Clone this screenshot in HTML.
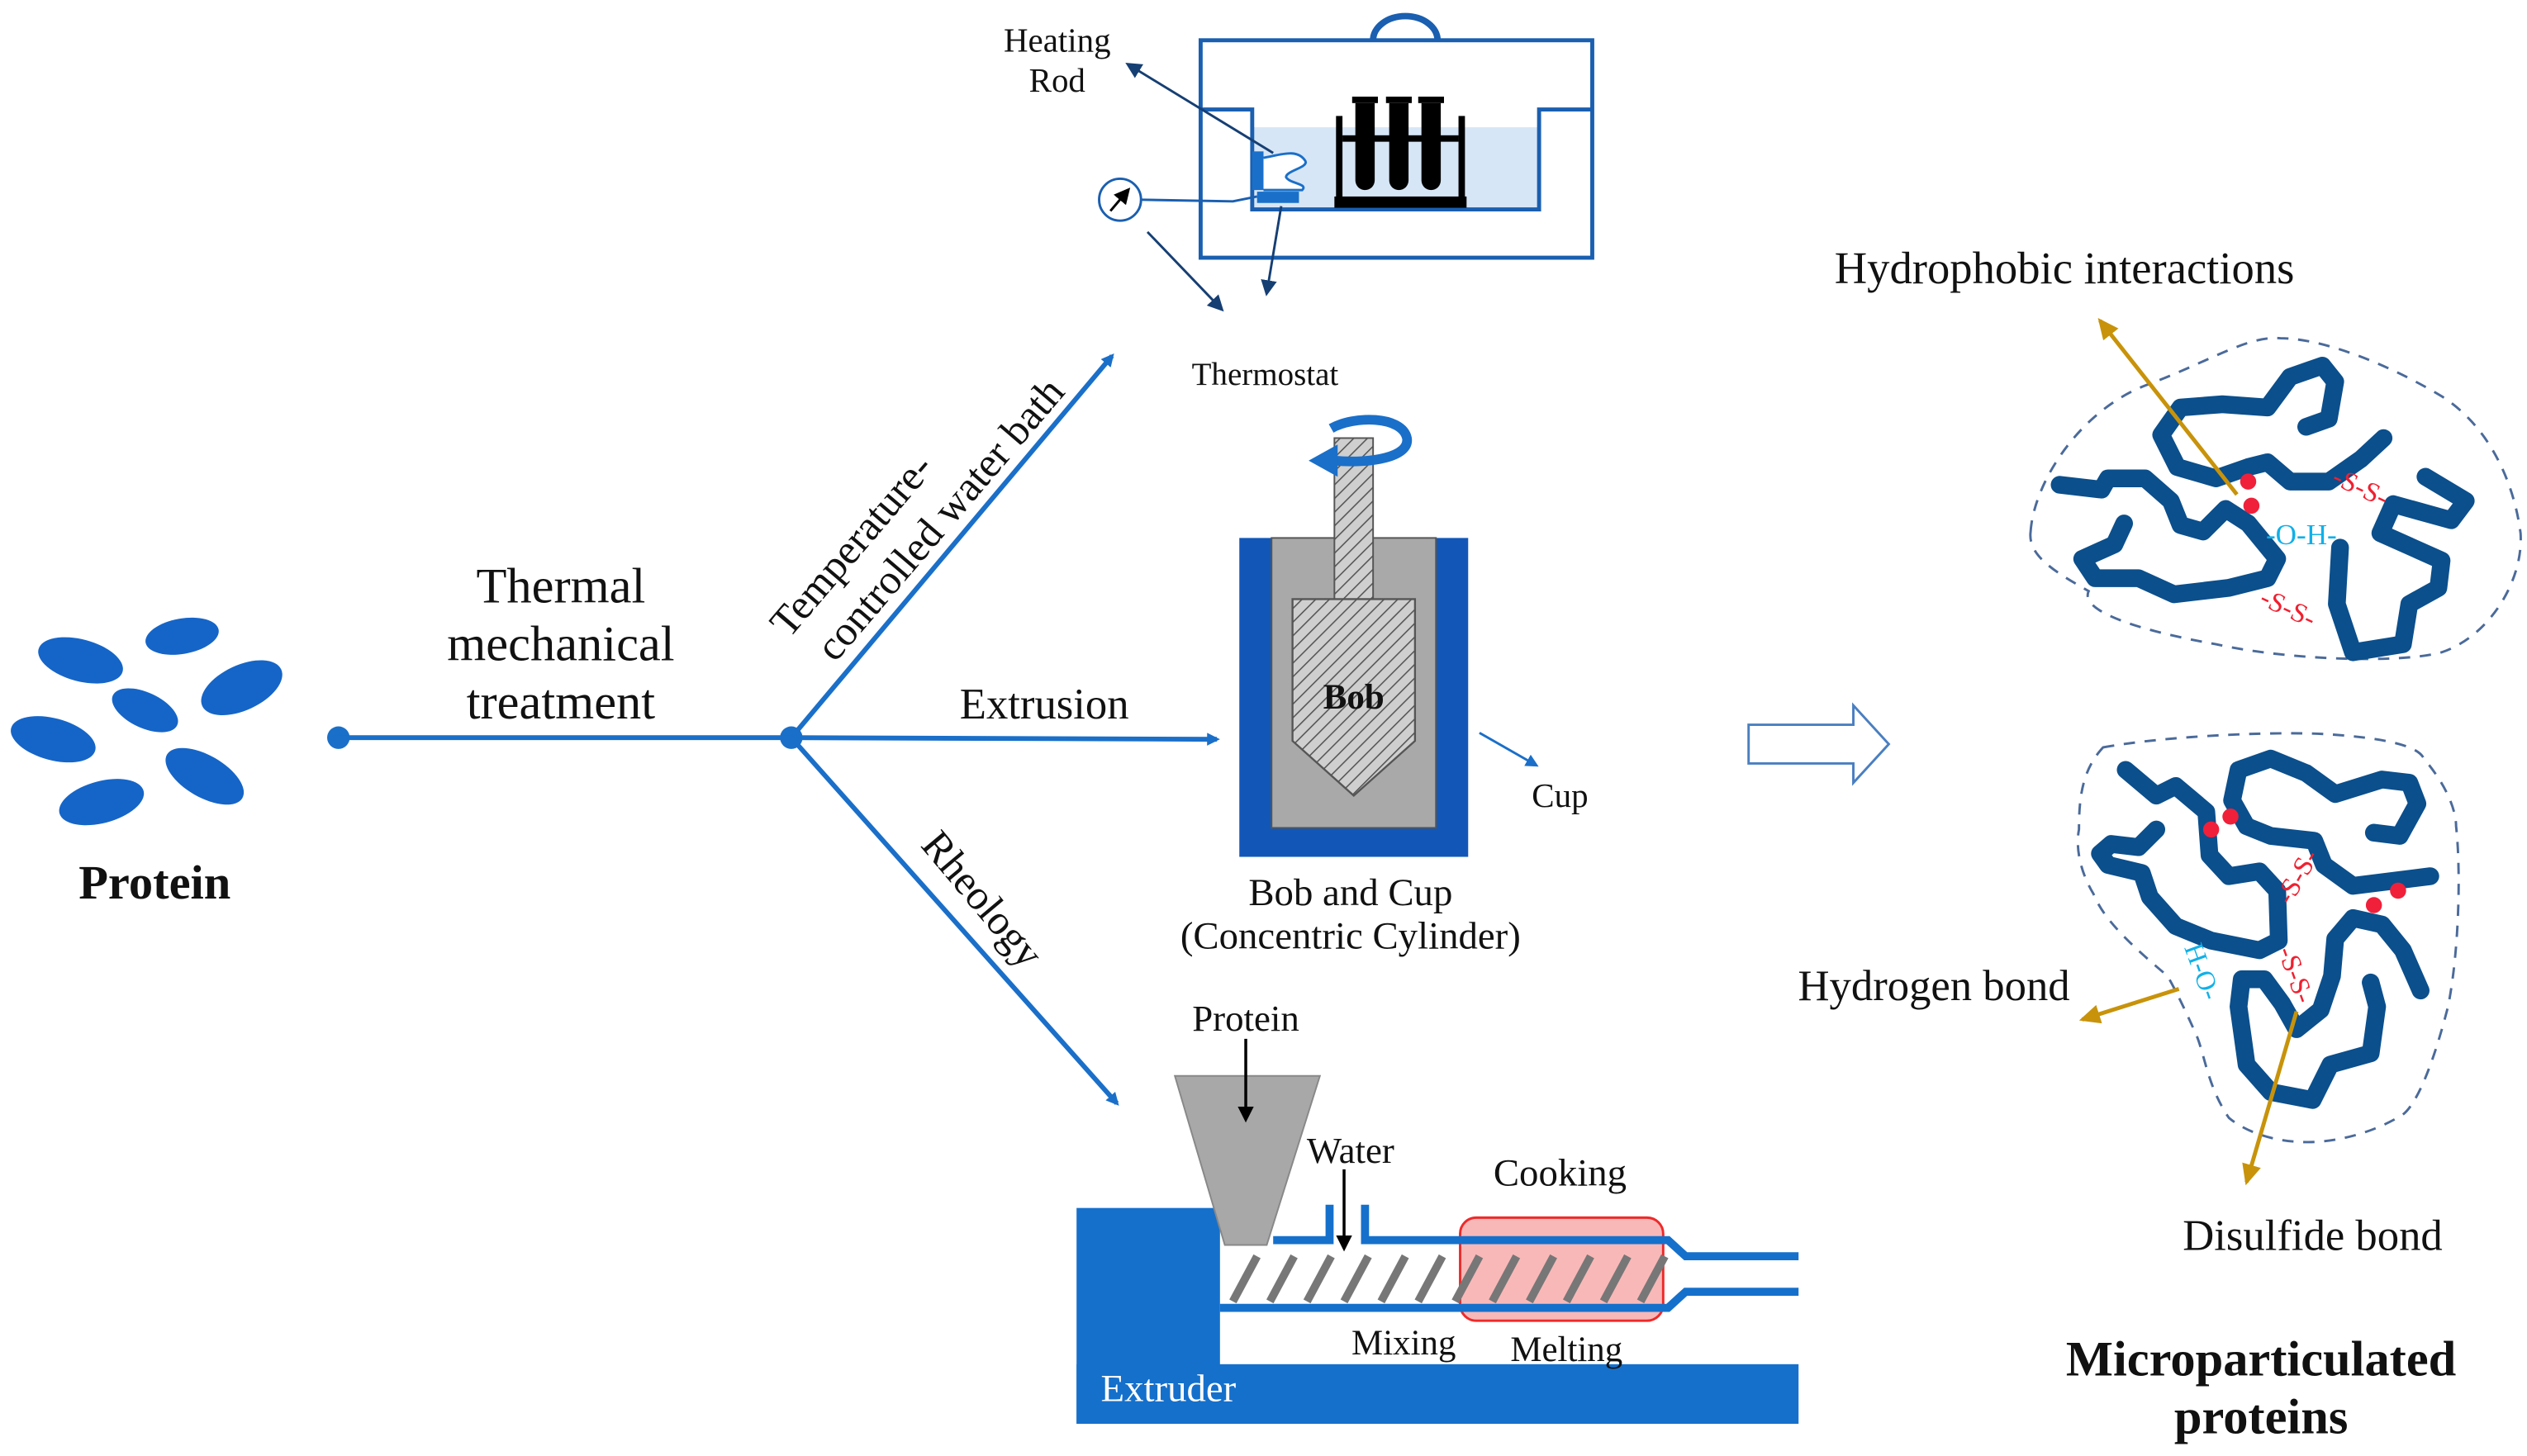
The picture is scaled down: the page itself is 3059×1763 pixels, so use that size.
<!DOCTYPE html>
<html><head><meta charset="utf-8"><style>
html,body{margin:0;padding:0;background:#fff}
svg{display:block}
text{font-family:"Liberation Serif",serif;fill:#111}
</style></head><body>
<svg width="3059" height="1763" viewBox="0 0 1568 904" preserveAspectRatio="none" xmlns="http://www.w3.org/2000/svg">
<defs>
<marker id="ab" markerWidth="8" markerHeight="8" refX="6" refY="4" orient="auto" markerUnits="userSpaceOnUse"><path d="M0,0 L8,4 L0,8 z" fill="#1a6fc9"/></marker>
<marker id="an" markerWidth="10" markerHeight="10" refX="8" refY="5" orient="auto" markerUnits="userSpaceOnUse"><path d="M0,0 L10,5 L0,10 z" fill="#163f73"/></marker>
<marker id="ak" markerWidth="10" markerHeight="10" refX="8" refY="5" orient="auto" markerUnits="userSpaceOnUse"><path d="M0,0 L10,5 L0,10 z" fill="#000"/></marker>
<marker id="ag" markerWidth="14" markerHeight="14" refX="11" refY="7" orient="auto" markerUnits="userSpaceOnUse"><path d="M0,1 L13,7 L0,13 z" fill="#c8930a"/></marker>
<pattern id="hatch" width="6" height="6" patternUnits="userSpaceOnUse" patternTransform="rotate(45)"><rect width="6" height="6" fill="#cfcfcf"/><line x1="0" y1="0" x2="0" y2="6" stroke="#555" stroke-width="1.6"/></pattern>
</defs>

<!-- protein blobs -->
<g fill="#1565c8">
<ellipse cx="50" cy="410" rx="27" ry="13" transform="rotate(15 50 410)"/>
<ellipse cx="113" cy="395" rx="23" ry="11" transform="rotate(-10 113 395)"/>
<ellipse cx="150" cy="427" rx="27" ry="14" transform="rotate(-25 150 427)"/>
<ellipse cx="90" cy="441" rx="22" ry="11" transform="rotate(25 90 441)"/>
<ellipse cx="33" cy="459" rx="27" ry="13" transform="rotate(15 33 459)"/>
<ellipse cx="127" cy="482" rx="27" ry="13" transform="rotate(30 127 482)"/>
<ellipse cx="63" cy="498" rx="27" ry="13" transform="rotate(-15 63 498)"/>
</g>
<text x="96" y="558" font-size="30" font-weight="bold" text-anchor="middle">Protein</text>

<!-- main connectors -->
<circle cx="210" cy="458" r="7" fill="#1a6fc9"/>
<circle cx="491" cy="458" r="7" fill="#1a6fc9"/>
<g stroke="#1a6fc9" stroke-width="3" fill="none">
<line x1="210" y1="458" x2="491" y2="458"/>
<line x1="491" y1="458" x2="690" y2="221" marker-end="url(#ab)"/>
<line x1="491" y1="458" x2="755" y2="459" marker-end="url(#ab)"/>
<line x1="491" y1="458" x2="693" y2="685" marker-end="url(#ab)"/>
</g>
<g font-size="31" text-anchor="middle">
<text x="348" y="374">Thermal</text>
<text x="348" y="410">mechanical</text>
<text x="348" y="446">treatment</text>
</g>
<text x="528" y="347" font-size="26" text-anchor="middle" transform="rotate(-49.5 528 338)">Temperature-</text>
<text x="583" y="331" font-size="26" text-anchor="middle" transform="rotate(-49.5 583 322)">controlled water bath</text>
<text x="648" y="446" font-size="27" text-anchor="middle">Extrusion</text>
<text x="610" y="567" font-size="26" text-anchor="middle" transform="rotate(50 610 558)">Rheology</text>

<!-- water bath -->
<path d="M852,25 A16,12 0 0 1 892,25" fill="none" stroke="#1a5fb0" stroke-width="4"/>
<rect x="745" y="25" width="243" height="135" fill="none" stroke="#1a5fb0" stroke-width="2.5"/>
<rect x="777" y="79" width="178" height="51" fill="#d7e6f6"/>
<path d="M745,68 L777,68 L777,130 L955,130 L955,68 L988,68" fill="none" stroke="#1a5fb0" stroke-width="2.5"/>
<g fill="#000">
<rect x="828" y="122" width="82" height="7"/>
<rect x="829" y="72" width="4" height="52"/><rect x="905" y="72" width="4" height="52"/>
<rect x="833" y="84" width="72" height="4"/>
<rect x="839" y="60" width="16" height="4"/><rect x="860" y="60" width="16" height="4"/><rect x="880" y="60" width="16" height="4"/>
<path d="M841,64 h12 v48 a6,6 0 0 1 -12,0 z"/><path d="M862,64 h12 v48 a6,6 0 0 1 -12,0 z"/><path d="M882,64 h12 v48 a6,6 0 0 1 -12,0 z"/>
</g>
<rect x="777" y="94" width="7" height="24" fill="#1a6fc9"/>
<path d="M784,98 C795,96 805,92 810,100 C812,104 798,106 798,110 C800,114 812,114 808,118 L784,118" fill="#fff" stroke="#1a6fc9" stroke-width="1.5"/>
<rect x="780" y="119" width="26" height="7" fill="#1a6fc9"/>
<circle cx="695" cy="124" r="13" fill="#fff" stroke="#1a5fb0" stroke-width="1.5"/>
<line x1="689" y1="131" x2="700" y2="118" stroke="#000" stroke-width="1.5" marker-end="url(#ak)"/>
<path d="M708,124 L765,125 L780,122" fill="none" stroke="#1a5fb0" stroke-width="1.5"/>
<g stroke="#163f73" stroke-width="1.5" fill="none">
<line x1="790" y1="95" x2="700" y2="40" marker-end="url(#an)"/>
<line x1="712" y1="144" x2="758" y2="192" marker-end="url(#an)"/>
<line x1="795" y1="128" x2="786" y2="182" marker-end="url(#an)"/>
</g>
<text x="656" y="32" font-size="21" text-anchor="middle">Heating</text>
<text x="656" y="57" font-size="21" text-anchor="middle">Rod</text>
<text x="785" y="239" font-size="20" text-anchor="middle">Thermostat</text>

<!-- bob and cup -->
<rect x="769" y="334" width="142" height="198" fill="#1257b8"/>
<rect x="789" y="334" width="102" height="180" fill="#a9a9a9" stroke="#555" stroke-width="1"/>
<rect x="828" y="272" width="24" height="100" fill="url(#hatch)" stroke="#555" stroke-width="1"/>
<path d="M802,372 L878,372 L878,460 L840,494 L802,460 Z" fill="url(#hatch)" stroke="#555" stroke-width="1.2"/>
<text x="840" y="440" font-size="22" font-weight="bold" text-anchor="middle">Bob</text>
<path d="M826,266 C840,258 870,258 873,272 C875,284 850,288 828,286" fill="none" stroke="#1a6fc9" stroke-width="6"/>
<path d="M812,286 L830,276 L830,296 Z" fill="#1a6fc9"/>
<line x1="918" y1="455" x2="953" y2="475" stroke="#1a6fc9" stroke-width="1.5" marker-end="url(#ab)"/>
<text x="968" y="501" font-size="21" text-anchor="middle">Cup</text>
<text x="838" y="562" font-size="24" text-anchor="middle">Bob and Cup</text>
<text x="838" y="589" font-size="24" text-anchor="middle">(Concentric Cylinder)</text>

<!-- extruder -->
<rect x="668" y="847" width="448" height="37" fill="#1570cc"/>
<rect x="668" y="750" width="89" height="134" fill="#1570cc"/>
<rect x="906" y="756" width="126" height="64" rx="10" fill="#f9b8b8" stroke="#ee2a2a" stroke-width="1.5"/>
<path d="M729,668 L819,668 L786,773 L760,773 Z" fill="#a8a8a8" stroke="#888" stroke-width="1"/>
<g stroke="#777" stroke-width="5">
<line x1="765" y1="808" x2="780" y2="780"/><line x1="788" y1="808" x2="803" y2="780"/><line x1="811" y1="808" x2="826" y2="780"/>
<line x1="834" y1="808" x2="849" y2="780"/><line x1="857" y1="808" x2="872" y2="780"/><line x1="880" y1="808" x2="895" y2="780"/>
<line x1="903" y1="808" x2="918" y2="780"/><line x1="926" y1="808" x2="941" y2="780"/><line x1="949" y1="808" x2="964" y2="780"/>
<line x1="972" y1="808" x2="987" y2="780"/><line x1="995" y1="808" x2="1010" y2="780"/><line x1="1018" y1="808" x2="1033" y2="780"/>
</g>
<g stroke="#1570cc" stroke-width="5" fill="none">
<path d="M790,770 L825,770 L825,748"/>
<path d="M847,748 L847,770 L1035,770 L1046,780 L1116,780"/>
<path d="M757,812 L1035,812 L1046,802 L1116,802"/>
</g>
<line x1="773" y1="645" x2="773" y2="695" stroke="#000" stroke-width="1.8" marker-end="url(#ak)"/>
<line x1="834" y1="726" x2="834" y2="775" stroke="#000" stroke-width="1.8" marker-end="url(#ak)"/>
<text x="773" y="640" font-size="23" text-anchor="middle">Protein</text>
<text x="838" y="722" font-size="23" text-anchor="middle">Water</text>
<text x="968" y="736" font-size="24" text-anchor="middle">Cooking</text>
<text x="871" y="841" font-size="22" text-anchor="middle">Mixing</text>
<text x="972" y="845" font-size="22" text-anchor="middle">Melting</text>
<text x="725" y="870" font-size="24" text-anchor="middle" style="fill:#fff">Extruder</text>

<!-- open arrow -->
<path d="M1085,450 L1150,450 L1150,438 L1172,462 L1150,486 L1150,474 L1085,474 Z" fill="#fff" stroke="#4a7fc0" stroke-width="1.5"/>

<!-- top cluster -->
<path d="M1260,330 C1262,300 1290,255 1332,239 C1370,225 1395,208 1415,210 C1440,210 1480,225 1515,246 C1545,265 1560,300 1564,331 C1566,360 1545,395 1515,405 C1490,412 1420,410 1375,400 C1330,392 1290,380 1296,367 C1275,355 1258,345 1260,330 Z" fill="none" stroke="#4a6a9a" stroke-width="1.5" stroke-dasharray="7,6"/>
<g fill="none" stroke="#0b4f8c" stroke-width="11" stroke-linecap="round" stroke-linejoin="round">
<polyline points="1431,265 1445,260 1449,237 1441,227 1421,234 1407,253 1379,251 1353,253 1341,270 1351,290 1375,297 1395,290 1407,287 1421,299 1445,299 1465,285 1479,272"/>
<polyline points="1278,301 1304,304 1308,297 1331,297 1347,311 1353,326 1367,330 1381,316 1395,325 1413,347 1407,359 1383,365 1349,369 1327,359 1300,359 1292,347 1312,338 1318,325"/>
<polyline points="1505,296 1530,311 1521,323 1485,313 1477,331 1515,348 1513,365 1495,375 1491,400 1460,405 1450,375 1452,340"/>
</g>
<circle cx="1395" cy="299" r="5" fill="#f0203a"/><circle cx="1397" cy="314" r="5" fill="#f0203a"/>
<text x="1465" y="308" font-size="17" text-anchor="middle" style="fill:#f02030" transform="rotate(25 1465 302)">-S-S-</text>
<text x="1420" y="383" font-size="17" text-anchor="middle" style="fill:#f02030" transform="rotate(25 1420 377)">-S-S-</text>
<text x="1428" y="338" font-size="18" text-anchor="middle" style="fill:#10b0e8">-O-H-</text>
<line x1="1388" y1="307" x2="1303" y2="199" stroke="#c8930a" stroke-width="2.5" marker-end="url(#ag)"/>
<text x="1281" y="176" font-size="28" text-anchor="middle">Hydrophobic interactions</text>

<!-- bottom cluster -->
<path d="M1305,464 C1350,456 1420,454 1446,456 C1475,458 1500,462 1504,471 C1520,490 1524,505 1524,513 C1527,540 1526,590 1519,625 C1510,660 1500,685 1491,692 C1470,705 1445,710 1427,709 C1405,708 1390,700 1383,694 C1370,675 1368,655 1363,643 C1355,625 1350,615 1345,606 C1320,585 1305,570 1299,555 C1290,540 1288,525 1290,515 C1290,495 1292,478 1305,464 Z" fill="none" stroke="#4a6a9a" stroke-width="1.5" stroke-dasharray="7,6"/>
<g fill="none" stroke="#0b4f8c" stroke-width="11" stroke-linecap="round" stroke-linejoin="round">
<polyline points="1319,478 1338,494 1350,488 1369,504 1371,531 1383,544 1402,541 1413,553 1414,584 1402,590 1372,584 1350,575 1334,557 1329,542 1308,537 1303,530 1310,524 1327,526 1338,515"/>
<polyline points="1473,517 1489,519 1500,499 1495,486 1478,484 1449,493 1431,480 1409,471 1389,478 1385,497 1394,513 1409,519 1436,522 1442,537 1460,550 1508,544"/>
<polyline points="1502,615 1491,590 1478,574 1460,570 1449,583 1447,606 1440,627 1425,639 1416,623 1405,608 1391,608 1389,625 1394,661 1409,678 1435,683 1446,661 1471,654 1475,625 1471,610"/>
</g>
<circle cx="1372" cy="515" r="5" fill="#f0203a"/><circle cx="1384" cy="507" r="5" fill="#f0203a"/>
<circle cx="1473" cy="562" r="5" fill="#f0203a"/><circle cx="1488" cy="553" r="5" fill="#f0203a"/>
<text x="1425" y="550" font-size="17" text-anchor="middle" style="fill:#f02030" transform="rotate(-60 1425 544)">-S-S-</text>
<text x="1425" y="611" font-size="17" text-anchor="middle" style="fill:#f02030" transform="rotate(70 1425 605)">-S-S-</text>
<text x="1367" y="609" font-size="17" text-anchor="middle" style="fill:#10b0e8" transform="rotate(70 1367 603)">H-O-</text>
<line x1="1352" y1="614" x2="1292" y2="633" stroke="#c8930a" stroke-width="2.5" marker-end="url(#ag)"/>
<line x1="1425" y1="628" x2="1394" y2="734" stroke="#c8930a" stroke-width="2.5" marker-end="url(#ag)"/>
<text x="1200" y="621" font-size="27" text-anchor="middle">Hydrogen bond</text>
<text x="1435" y="776" font-size="27" text-anchor="middle">Disulfide bond</text>
<text x="1403" y="854" font-size="31" font-weight="bold" text-anchor="middle">Microparticulated</text>
<text x="1403" y="890" font-size="31" font-weight="bold" text-anchor="middle">proteins</text>
</svg>
</body></html>
